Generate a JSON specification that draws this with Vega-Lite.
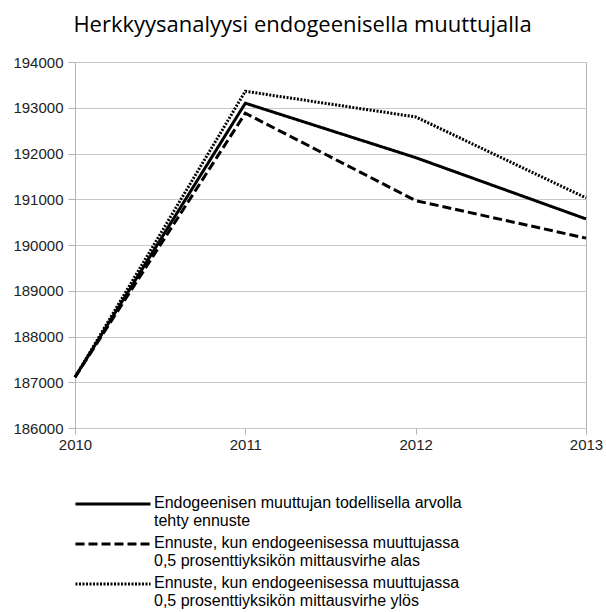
{
  "$schema": "https://vega.github.io/schema/vega-lite/v6.json",
  "autosize": "none",
  "width": 511,
  "height": 366,
  "padding": {"left": 75, "top": 62, "right": 20, "bottom": 184},
  "background": "white",
  "title": {
    "text": "Herkkyysanalyysi endogeenisella muuttujalla",
    "font": "Open Sans",
    "fontSize": 22,
    "fontWeight": "normal",
    "color": "#000000",
    "anchor": "middle",
    "dx": -28,
    "offset": 18
  },
  "config": {
    "view": {"stroke": "#b3b3b3", "strokeWidth": 1},
    "axis": {
      "labelFont": "Liberation Sans",
      "labelFontSize": 15,
      "labelColor": "#222222",
      "domainColor": "#b3b3b3",
      "tickColor": "#b3b3b3",
      "gridColor": "#c8c8c8",
      "title": null
    },
    "legend": {
      "labelFont": "Liberation Sans",
      "labelFontSize": 16,
      "labelColor": "#000000"
    }
  },
  "data": {
    "values": [
      {"vuosi": 2010, "arvo": 187110, "sarja": "Endogeenisen muuttujan todellisella arvolla\ntehty ennuste"},
      {"vuosi": 2011, "arvo": 193100, "sarja": "Endogeenisen muuttujan todellisella arvolla\ntehty ennuste"},
      {"vuosi": 2012, "arvo": 191910, "sarja": "Endogeenisen muuttujan todellisella arvolla\ntehty ennuste"},
      {"vuosi": 2013, "arvo": 190570, "sarja": "Endogeenisen muuttujan todellisella arvolla\ntehty ennuste"},
      {"vuosi": 2010, "arvo": 187110, "sarja": "Ennuste, kun endogeenisessa muuttujassa\n0,5 prosenttiyksikön mittausvirhe alas"},
      {"vuosi": 2011, "arvo": 192880, "sarja": "Ennuste, kun endogeenisessa muuttujassa\n0,5 prosenttiyksikön mittausvirhe alas"},
      {"vuosi": 2012, "arvo": 190970, "sarja": "Ennuste, kun endogeenisessa muuttujassa\n0,5 prosenttiyksikön mittausvirhe alas"},
      {"vuosi": 2013, "arvo": 190150, "sarja": "Ennuste, kun endogeenisessa muuttujassa\n0,5 prosenttiyksikön mittausvirhe alas"},
      {"vuosi": 2010, "arvo": 187110, "sarja": "Ennuste, kun endogeenisessa muuttujassa\n0,5 prosenttiyksikön mittausvirhe ylös"},
      {"vuosi": 2011, "arvo": 193360, "sarja": "Ennuste, kun endogeenisessa muuttujassa\n0,5 prosenttiyksikön mittausvirhe ylös"},
      {"vuosi": 2012, "arvo": 192800, "sarja": "Ennuste, kun endogeenisessa muuttujassa\n0,5 prosenttiyksikön mittausvirhe ylös"},
      {"vuosi": 2013, "arvo": 191030, "sarja": "Ennuste, kun endogeenisessa muuttujassa\n0,5 prosenttiyksikön mittausvirhe ylös"}
    ]
  },
  "mark": {"type": "line", "color": "#000000", "strokeWidth": 3},
  "encoding": {
    "x": {
      "field": "vuosi",
      "type": "quantitative",
      "scale": {"domain": [2010, 2013], "nice": false, "zero": false},
      "axis": {
        "values": [2010, 2011, 2012, 2013],
        "format": "d",
        "grid": false,
        "domain": false,
        "tickSize": 6,
        "labelFlush": false,
        "labelPadding": 3
      }
    },
    "y": {
      "field": "arvo",
      "type": "quantitative",
      "scale": {"domain": [186000, 194000], "nice": false, "zero": false},
      "axis": {
        "values": [186000, 187000, 188000, 189000, 190000, 191000, 192000, 193000, 194000],
        "format": "d",
        "grid": true,
        "tickSize": 7,
        "labelPadding": 5
      }
    },
    "strokeDash": {
      "field": "sarja",
      "type": "nominal",
      "sort": null,
      "scale": {
        "domain": [
          "Endogeenisen muuttujan todellisella arvolla\ntehty ennuste",
          "Ennuste, kun endogeenisessa muuttujassa\n0,5 prosenttiyksikön mittausvirhe alas",
          "Ennuste, kun endogeenisessa muuttujassa\n0,5 prosenttiyksikön mittausvirhe ylös"
        ],
        "range": [[1, 0], [9, 4], [2, 1.5]]
      },
      "legend": {
        "title": null,
        "orient": "none",
        "legendX": 29,
        "legendY": 433,
        "direction": "vertical",
        "symbolType": "M-5,0H5",
        "symbolSize": 225,
        "symbolStrokeWidth": 3,
        "symbolStrokeColor": "#000000",
        "labelExpr": "split(datum.label, '\\n')",
        "labelOffset": 32,
        "labelLimit": 500,
        "labelBaseline": "top",
        "rowPadding": 6,
        "encode": {
          "labels": {"update": {"dy": {"value": -9}}}
        }
      }
    }
  }
}
